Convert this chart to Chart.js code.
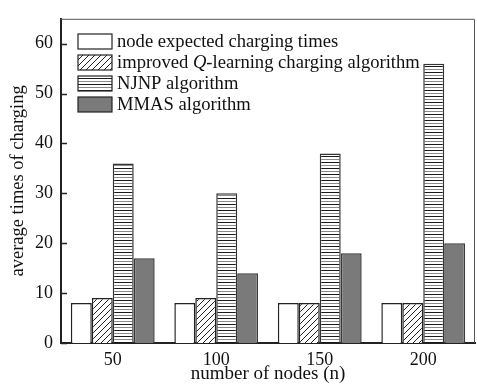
<!DOCTYPE html>
<html>
<head>
<meta charset="utf-8">
<script src="https://cdn.jsdelivr.net/npm/chart.js@4.4.1/dist/chart.umd.min.js"></script>
<style>
  html, body { margin: 0; padding: 0; background: #fff; }
  #wrap { width: 477px; height: 385px; }
</style>
</head>
<body>
<div id="wrap"><canvas id="grafica"></canvas></div>
<script>
// datos
const categorias = ['50', '100', '150', '200'];
const esperado = [8, 8, 8, 8];
const qLearning = [9, 9, 8, 8];
const njnp = [36, 30, 38, 56];
const mmas = [17, 14, 18, 20];
const yTicks = [0, 10, 20, 30, 40, 50, 60];
const etiquetas = ['node expected charging times', 'improved Q-learning charging algorithm', 'NJNP algorithm', 'MMAS algorithm'];

const fuente = '"Liberation Serif", "Times New Roman", serif';

// patrones de relleno
const patronRayado = () => {
  const c = document.createElement('canvas');
  c.width = 6; c.height = 6;
  const g = c.getContext('2d');
  g.fillStyle = '#fff'; g.fillRect(0, 0, 6, 6);
  g.strokeStyle = '#222'; g.lineWidth = 1;
  g.beginPath();
  g.moveTo(0, 6); g.lineTo(6, 0);
  g.moveTo(-1, 1); g.lineTo(1, -1);
  g.moveTo(5, 7); g.lineTo(7, 5);
  g.stroke();
  return g.createPattern(c, 'repeat');
}
const patronHorizontal = () => {
  const c = document.createElement('canvas');
  c.width = 4; c.height = 6;
  const g = c.getContext('2d');
  g.fillStyle = '#fff'; g.fillRect(0, 0, 4, 6);
  g.fillStyle = '#1a1a1a'; g.fillRect(0, 0, 4, 1);
  g.fillStyle = '#8a8a8a'; g.fillRect(0, 3, 4, 1);
  return g.createPattern(c, 'repeat');
}

const rellenos = ['#ffffff', patronRayado(), patronHorizontal(), '#7a7a7a'];
const bordes = ['#222', '#222', '#333', '#3a3a3a'];

// ticks hacia adentro, marco superior/derecho y leyenda
const marcoPlugin = {
  id: 'marco',
  afterDatasetsDraw(chart) {
    const ctx = chart.ctx;
    const a = chart.chartArea;
    const y = chart.scales.y;
    ctx.save();
    ctx.strokeStyle = '#555';
    ctx.lineWidth = 1;
    ctx.beginPath();
    ctx.moveTo(a.left, a.top + 0.5); ctx.lineTo(a.right - 0.5, a.top + 0.5);
    ctx.lineTo(a.right - 0.5, a.bottom);
    ctx.stroke();
    ctx.strokeStyle = '#222';
    ctx.lineWidth = 1.5;
    yTicks.forEach(v => {
      const py = Math.round(y.getPixelForValue(v)) + 0.5;
      ctx.beginPath();
      ctx.moveTo(a.left, py); ctx.lineTo(a.left + 6, py);
      ctx.stroke();
    });

    // leyenda
    const bx = 78, by = 34, bw = 34, bh = 15, paso = 21;
    const fs = 18.6;
    ctx.font = fs + 'px ' + fuente;
    ctx.textBaseline = 'middle';
    ctx.fillStyle = '#111';
    chart.data.datasets.forEach((ds, i) => {
      const top = by + i * paso;
      ctx.fillStyle = ds.backgroundColor;
      ctx.fillRect(bx, top, bw, bh);
      ctx.strokeStyle = '#222';
      ctx.lineWidth = 1.2;
      ctx.strokeRect(bx, top, bw, bh);
      ctx.fillStyle = '#111';
      const ty = top + bh / 2 + 1;
      let tx = bx + bw + 5;
      const txt = ds.label;
      const k = txt.indexOf('Q-');
      if (k >= 0) {
        const a1 = txt.slice(0, k);
        ctx.fillText(a1, tx, ty); tx += ctx.measureText(a1).width;
        ctx.font = 'italic ' + fs + 'px ' + fuente;
        ctx.fillText('Q', tx, ty); tx += ctx.measureText('Q').width;
        ctx.font = fs + 'px ' + fuente;
        ctx.fillText(txt.slice(k + 1), tx, ty);
      } else {
        ctx.fillText(txt, tx, ty);
      }
    });
    ctx.restore();
  }
}

const series = [esperado, qLearning, njnp, mmas];

new Chart(document.getElementById('grafica'), {
  type: 'bar',
  data: {
    labels: categorias,
    datasets: series.map((d, i) => ({
      label: etiquetas[i],
      data: d,
      backgroundColor: rellenos[i],
      borderColor: bordes[i],
      borderWidth: 1.5,
      categoryPercentage: 0.81,
      barPercentage: 1
    }))
  },
  options: {
    responsive: true,
    maintainAspectRatio: false,
    animation: false,
    layout: { padding: { left: 0, top: 8, right: 2, bottom: 0 } },
    plugins: {
      legend: { display: false },
      tooltip: { enabled: false }
    },
    scales: {
      x: {
        grid: { display: false, drawTicks: false },
        border: { display: true, color: '#222', width: 2 },
        ticks: { color: '#111', font: { family: fuente, size: 18 }, padding: 6 },
        title: { display: true, text: 'number of nodes (n)', color: '#111', font: { family: fuente, size: 19 }, padding: { top: 0, bottom: 0 } },
        afterFit: s => { s.height = 42; }
      },
      y: {
        min: 0,
        max: 65,
        grid: { display: false, drawTicks: false },
        border: { display: true, color: '#222', width: 2 },
        ticks: { color: '#111', font: { family: fuente, size: 18 }, padding: 8 },
        afterBuildTicks: s => { s.ticks = yTicks.map(v => ({ value: v })); },
        title: { display: true, text: 'average times of charging', color: '#111', font: { family: fuente, size: 18.5 }, padding: { top: 7, bottom: 0 } },
        afterFit: s => { s.width = 61; }
      }
    }
  },
  plugins: [marcoPlugin]
});
</script>
</body>
</html>
